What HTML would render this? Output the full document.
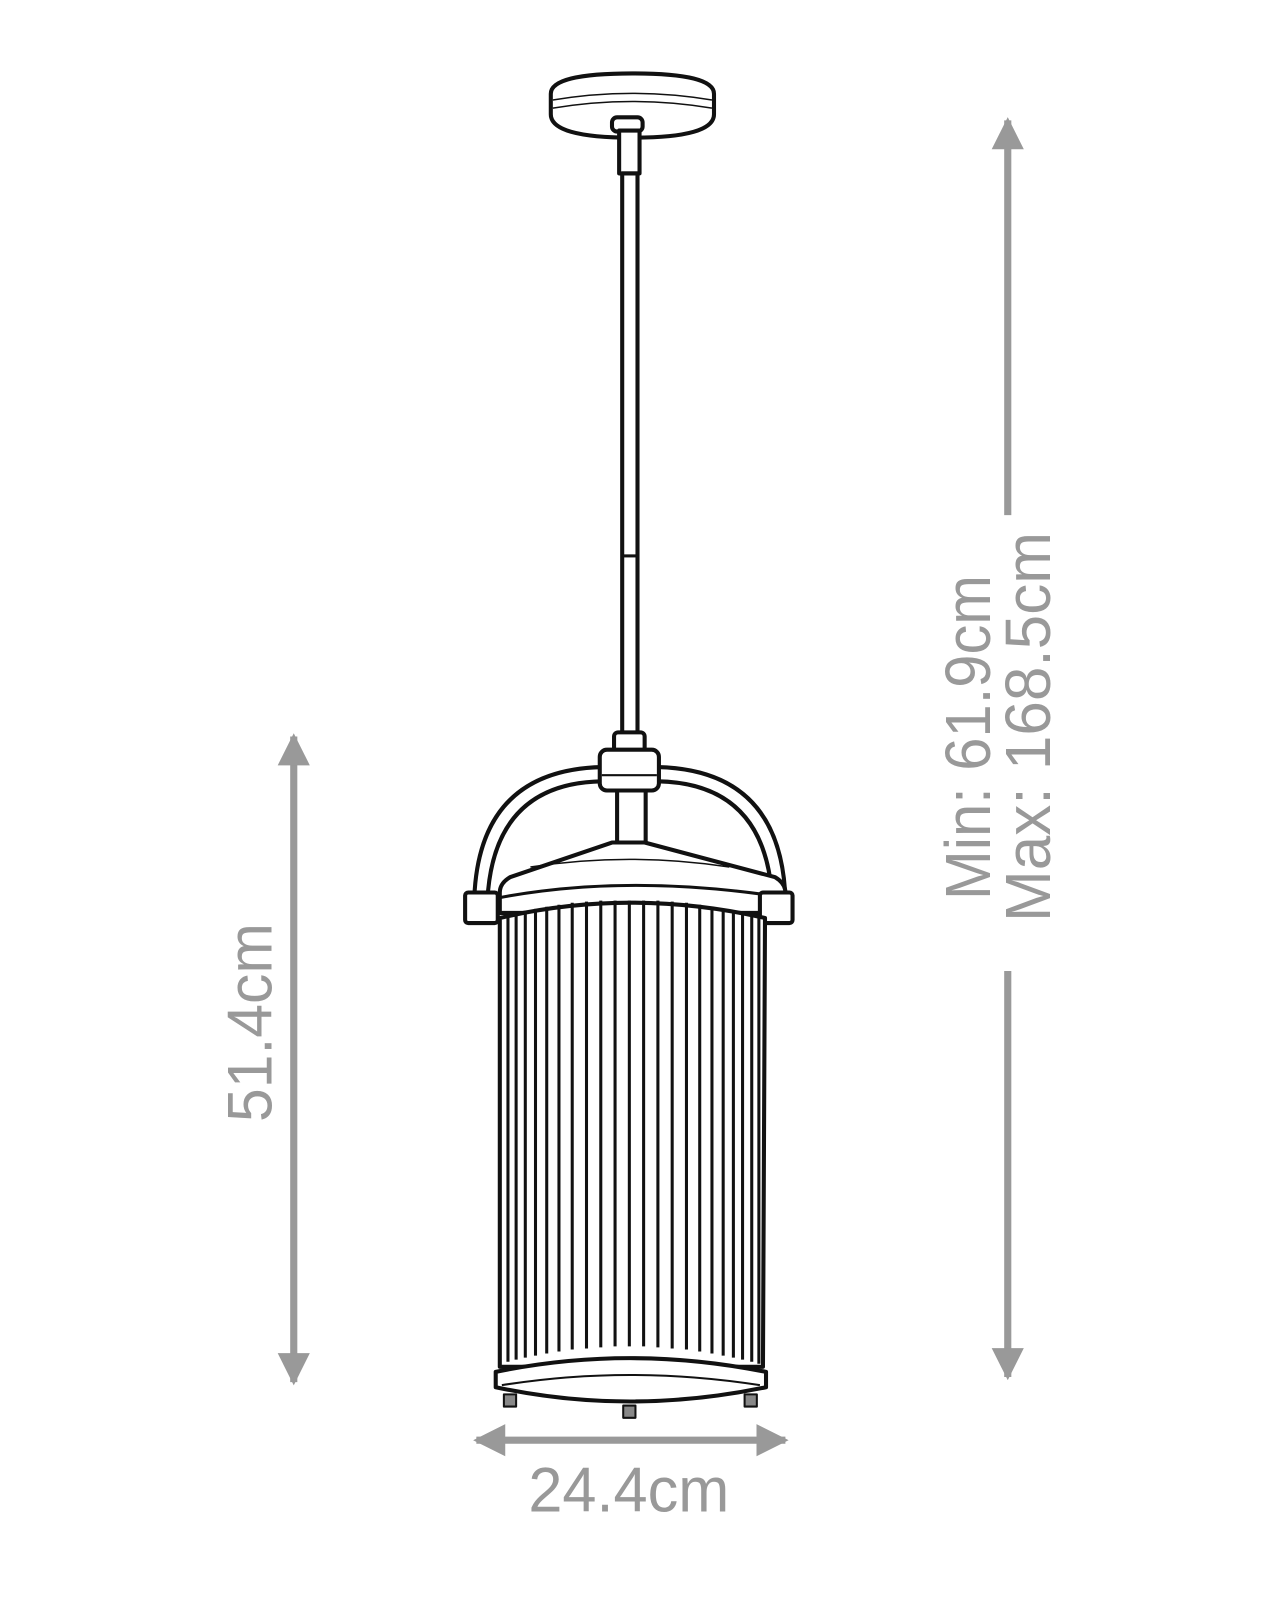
<!DOCTYPE html>
<html><head><meta charset="utf-8"><style>html,body{margin:0;padding:0;background:#fff}svg{display:block}</style></head>
<body>
<svg width="1280" height="1600" viewBox="0 0 1280 1600" xmlns="http://www.w3.org/2000/svg">
<defs>
<marker id="ah" viewBox="0 0 10 10" refX="9" refY="5" markerWidth="4.5" markerHeight="4.5" orient="auto-start-reverse" markerUnits="strokeWidth">
<path d="M0,0 L10,5 L0,10 z" fill="#999"/></marker>
</defs>
<g fill="#999" font-family="Liberation Sans, sans-serif" font-size="64">
<text x="0" y="0" transform="translate(990,900) rotate(-90)" textLength="325" lengthAdjust="spacingAndGlyphs">Min: 61.9cm</text>
<text x="0" y="0" transform="translate(1050,922) rotate(-90)" textLength="390" lengthAdjust="spacingAndGlyphs">Max: 168.5cm</text>
</g>
<g transform="scale(1.02)">
<g stroke="#999" stroke-width="7" fill="none">
<line x1="988" y1="118" x2="988" y2="505" marker-start="url(#ah)"/>
<line x1="988" y1="952" x2="988" y2="1350" marker-end="url(#ah)"/>
<line x1="288" y1="722" x2="288" y2="1355" marker-start="url(#ah)" marker-end="url(#ah)"/>
<line x1="467" y1="1412" x2="770" y2="1412" marker-start="url(#ah)" marker-end="url(#ah)"/>
</g>
<g fill="#999" font-family="Liberation Sans, sans-serif" font-size="62">
<text x="0" y="0" transform="translate(266,1100) rotate(-90)" textLength="195" lengthAdjust="spacingAndGlyphs">51.4cm</text>
<text x="518" y="1482" textLength="197" lengthAdjust="spacingAndGlyphs">24.4cm</text>
</g>
<g stroke="#111" stroke-width="4" fill="#fff" stroke-linejoin="round">
<path d="M540,92 Q540,72 620,72 Q700,72 700,92 L700,112 Q700,135 620,135 Q540,135 540,112 Z"/>
<path d="M542,98 Q620,85 698,98" stroke-width="1.5" fill="none"/>
<path d="M542,106 Q620,93 698,106" stroke-width="1.5" fill="none"/>
<rect x="600" y="115" width="30" height="14" rx="5"/>
<rect x="607" y="128" width="20" height="42"/>
<rect x="610" y="170" width="15" height="550"/>
<line x1="610" y1="545" x2="625" y2="545" stroke-width="3"/>
<path d="M590,752 Q470,755 465,880 L478,880 Q485,768 590,766 Z"/>
<path d="M645,752 Q765,755 770,880 L757,880 Q750,768 645,766 Z"/>
<rect x="602" y="718" width="30" height="20" rx="4"/>
<rect x="588" y="735" width="58" height="40" rx="7"/>
<line x1="590" y1="760" x2="644" y2="760" stroke-width="2"/>
<rect x="605" y="775" width="28" height="52"/>
<path d="M600,826 L632,826 L760,860 Q770,866 770,875 L770,895 L490,895 L490,875 Q490,866 500,860 Z"/>
<path d="M520,850 Q617,835 715,850" stroke-width="1.5" fill="none"/>
<path d="M490,880 Q617,856 770,880" stroke-width="3" fill="none"/>
<rect x="456" y="875" width="32" height="30" rx="3"/>
<rect x="745" y="875" width="32" height="30" rx="3"/>
<path d="M490,900 Q617,870 750,900 L748,1340 L490,1340 Z"/>
<g stroke-width="3">
<line x1="498" y1="898" x2="498" y2="1335"/><line x1="506" y1="896" x2="506" y2="1333"/>
<line x1="515" y1="893" x2="515" y2="1331"/><line x1="525" y1="891" x2="525" y2="1329"/>
<line x1="536" y1="889" x2="536" y2="1327"/><line x1="548" y1="887" x2="548" y2="1325"/>
<line x1="561" y1="885" x2="561" y2="1323"/><line x1="575" y1="884" x2="575" y2="1322"/>
<line x1="589" y1="883" x2="589" y2="1321"/><line x1="603" y1="883" x2="603" y2="1320"/>
<line x1="617" y1="883" x2="617" y2="1320"/><line x1="631" y1="883" x2="631" y2="1320"/>
<line x1="645" y1="883" x2="645" y2="1321"/><line x1="659" y1="884" x2="659" y2="1322"/>
<line x1="673" y1="885" x2="673" y2="1323"/><line x1="686" y1="887" x2="686" y2="1325"/>
<line x1="698" y1="889" x2="698" y2="1327"/><line x1="709" y1="891" x2="709" y2="1329"/>
<line x1="719" y1="893" x2="719" y2="1331"/><line x1="728" y1="896" x2="728" y2="1333"/>
<line x1="737" y1="898" x2="737" y2="1335"/><line x1="744" y1="900" x2="744" y2="1337"/>
</g>
<path d="M486,1345 Q617,1318 751,1345 L751,1360 Q617,1388 486,1360 Z"/>
<path d="M492,1358 Q617,1338 745,1358" stroke-width="2" fill="none"/>
<rect x="494" y="1367" width="12" height="12" fill="#888" stroke-width="2"/>
<rect x="611" y="1378" width="12" height="12" fill="#888" stroke-width="2"/>
<rect x="730" y="1367" width="12" height="12" fill="#888" stroke-width="2"/>
</g>
</g>
</svg>
</body></html>
